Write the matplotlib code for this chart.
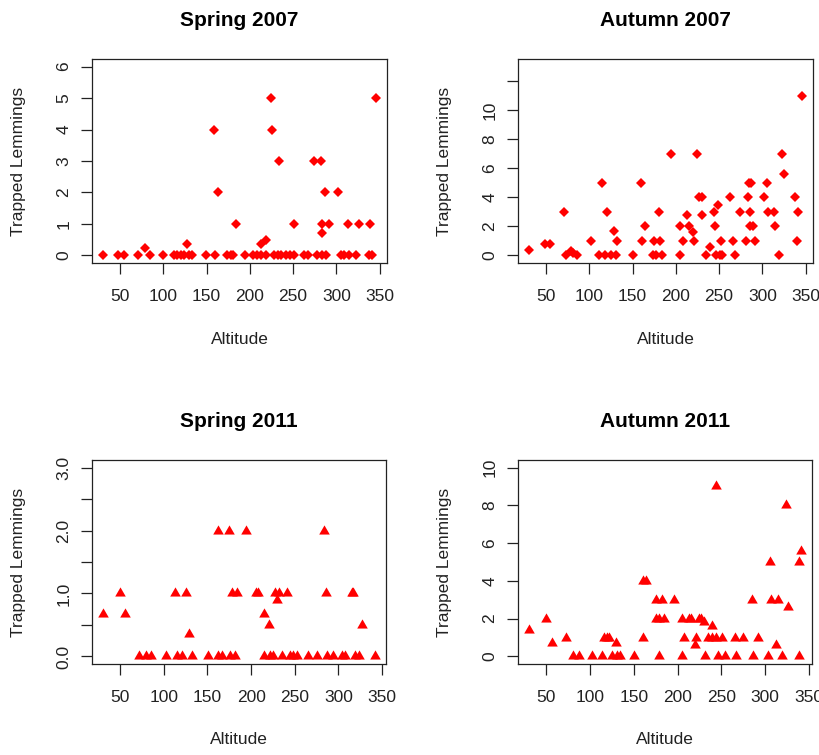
import matplotlib
matplotlib.use("Agg")
import matplotlib.pyplot as plt
import numpy as np

plt.rcParams["font.family"] = ["Liberation Sans", "DejaVu Sans"]

# ---- Spring 2007 ----
spring07_alt = [30, 48, 54, 71, 79, 85, 100, 112, 116, 120, 124, 127, 129, 133, 149,
                158, 160, 163, 174, 178, 181, 183.5, 194, 204, 208, 212.5, 212.5, 219,
                219, 224, 225.6, 228, 233, 234, 236.5, 241.6, 246.6, 251, 251, 263, 267,
                273.7, 278, 282, 283.7, 284, 284, 287, 288, 292, 301.5, 305, 309, 313,
                315, 323, 326, 338, 339.5, 341, 346]
spring07_n = [0, 0, 0, 0, 0.25, 0, 0, 0, 0, 0, 0, 0.35, 0, 0, 0,
              4, 0, 2, 0, 0, 0, 1, 0, 0, 0, 0, 0.35, 0,
              0.5, 5, 4, 0, 0, 3, 0, 0, 0, 0, 1, 0, 0,
              3, 0, 3, 0.7, 0, 1, 2, 0, 1, 2, 0, 0, 1,
              0, 0, 1, 0, 1, 0, 5]

# ---- Autumn 2007 ----
autumn07_alt = [30, 48.8, 53.9, 70.5, 72.5, 78.3, 81, 85.7, 102.3, 111, 114.7, 117.8,
                120.5, 124.4, 128.7, 130.6, 131.4, 150.8, 159.7, 160.5, 164.3, 173.3,
                174.8, 177, 180.6, 181.8, 183.7, 194, 205, 205, 208, 212.8, 215.5, 219.4,
                221.3, 224, 226.4, 230, 230, 235, 240, 243.8, 245.7, 247, 248.8, 250.8,
                252.3, 253.5, 263, 266.3, 268, 274, 280.6, 283.3, 284.5, 285.7, 286.4,
                285.7, 289, 291.5, 302, 305, 306.6, 313.6, 314.7, 319.4, 323.3, 325.3,
                338, 340, 341.5, 346]
autumn07_n = [0.4, 0.8, 0.8, 3, 0, 0.3, 0.15, 0, 1, 0, 5, 0,
              3, 0, 1.7, 0, 1, 0, 5, 1, 2, 0,
              1, 0, 3, 1, 0, 7, 2, 0, 1, 2.8, 2, 1.6,
              1, 7, 4, 4, 2.8, 0, 0.6, 3, 2, 0, 3.5, 0,
              1, 0, 4, 1, 0, 3, 1, 4, 5, 3, 5,
              2, 2, 1, 4, 5, 3, 3, 2, 0, 7, 5.6,
              4, 1, 3, 11]

# ---- Spring 2011 ----
spring11_alt = [30.2, 50, 55, 72, 80, 85, 102.7, 113, 115, 120.6, 125.6, 129, 132.8,
                151, 161.5, 162.6, 166.4, 175, 176, 178, 181.7, 184, 194, 205.7, 208.4,
                215, 215, 221, 221.8, 225.6, 227.5, 230, 232, 235, 241.6, 244.7, 248.5,
                252, 265.6, 275, 284, 285.5, 286.6, 293.5, 303.8, 307.6, 315, 317, 319,
                323.7, 326.7, 342]
spring11_n = [0.67, 1, 0.67, 0, 0, 0, 0, 1, 0, 0, 1, 0.35, 0,
              0, 2, 0, 0, 2, 0, 1, 0, 1, 2, 1, 1,
              0.67, 0, 0.5, 0, 0, 1, 0.9, 1, 0, 1, 0, 0,
              0, 0, 0, 2, 1, 0, 0, 0, 0, 1, 1, 0,
              0, 0.5, 0]

# ---- Autumn 2011 ----
autumn11_alt = [30, 50, 56, 72.8, 80.4, 86.8, 102, 113.4, 115.3, 119, 122, 125, 129.7,
                131, 134.7, 150.6, 160, 160.9, 164, 175.3, 175.3, 179, 179, 181.7, 184,
                195.4, 204.5, 205.6, 207.6, 213.3, 215, 220, 221.6, 224.6, 227.3, 230.3,
                231.5, 235.3, 239.8, 239.8, 243.6, 244.4, 246.7, 251.2, 254.2, 265.6,
                267.2, 275, 284.6, 286, 292.2, 302.8, 305.5, 307, 313, 315, 319.5, 324,
                326, 339.3, 339.3, 341.2]
autumn11_n = [1.4, 2, 0.7, 1, 0, 0, 0, 0, 1, 1, 1, 0, 0.7,
              0, 0, 0, 1, 4, 4, 3, 2, 0, 2, 3, 2,
              3, 0, 2, 1, 2, 2, 0.6, 1, 2, 2, 1.8,
              0, 1, 1.6, 1, 9, 1, 0, 1, 0, 1,
              0, 1, 3, 0, 1, 0, 5, 3, 0.6, 3, 0, 8,
              2.6, 0, 5, 5.6]

titles = ["Spring 2007", "Autumn 2007", "Spring 2011", "Autumn 2011"]
y_ranges = [(0, 6), (0, 13), (0, 3), (0, 10)]
y_ticks = [[0, 1, 2, 3, 4, 5, 6],
           [0, 2, 4, 6, 8, 10, 12],
           [0, 0.5, 1.0, 1.5, 2.0, 2.5, 3.0],
           [0, 2, 4, 6, 8, 10]]
y_ticklabels = [["0", "1", "2", "3", "4", "5", "6"],
                ["0", "2", "4", "6", "8", "10", ""],
                ["0.0", "", "1.0", "", "2.0", "", "3.0"],
                ["0", "2", "4", "6", "8", "10"]]
x_ticks = [50, 100, 150, 200, 250, 300, 350]

datasets = [(spring07_alt, spring07_n), (autumn07_alt, autumn07_n),
            (spring11_alt, spring11_n), (autumn11_alt, autumn11_n)]

# equilateral triangle similar to R's pch 17
tri = [(0, 1), (-0.866, -0.5), (0.866, -0.5)]
markers = [("D", 4.6), ("D", 4.6), (tri, 8.8), (tri, 8.8)]

W, H = 820, 755
fig = plt.figure(figsize=(W / 100, H / 100), dpi=100)
boxes = [(92, 59, 295, 204), (518, 59, 295, 204),
         (92, 460, 294, 204), (518, 460, 294, 204)]

tick_px = 11
for i, (left, top, w, h) in enumerate(boxes):
    ax = fig.add_axes([left / W, 1 - (top + h) / H, w / W, h / H])
    alt, n = datasets[i]
    m, ms = markers[i]
    ax.plot(alt, n, linestyle="none", marker=m, markersize=ms, color="red",
            markeredgewidth=0)
    ax.margins(x=0.04)
    lo, hi = y_ranges[i]
    pad = 0.04 * (hi - lo)
    ax.set_ylim(lo - pad, hi + pad)
    ax.set_xticks(x_ticks)
    ax.set_xticklabels([str(v) for v in x_ticks])
    ax.set_yticks(y_ticks[i])
    ax.set_yticklabels(y_ticklabels[i], rotation=90, va="center")
    for s in ax.spines.values():
        s.set_linewidth(0.9)
        s.set_color("#222222")
    ax.tick_params(axis="both", length=tick_px * 0.72, width=0.9, color="#222222",
                   labelsize=12.5, labelcolor="#222222")
    ax.tick_params(axis="x", pad=11)
    ax.tick_params(axis="y", pad=7)
    ax.set_title(titles[i], fontsize=15, fontweight="bold", pad=24)
    ax.set_xlabel("Altitude", fontsize=12.5, va="center", color="#222222")
    ax.xaxis.set_label_coords(0.5, -76 / h)
    ax.set_ylabel("Trapped Lemmings", fontsize=12.5, va="center", color="#222222")
    ax.yaxis.set_label_coords(-73.5 / w, 0.5)

fig.savefig("out.png", dpi=100)
